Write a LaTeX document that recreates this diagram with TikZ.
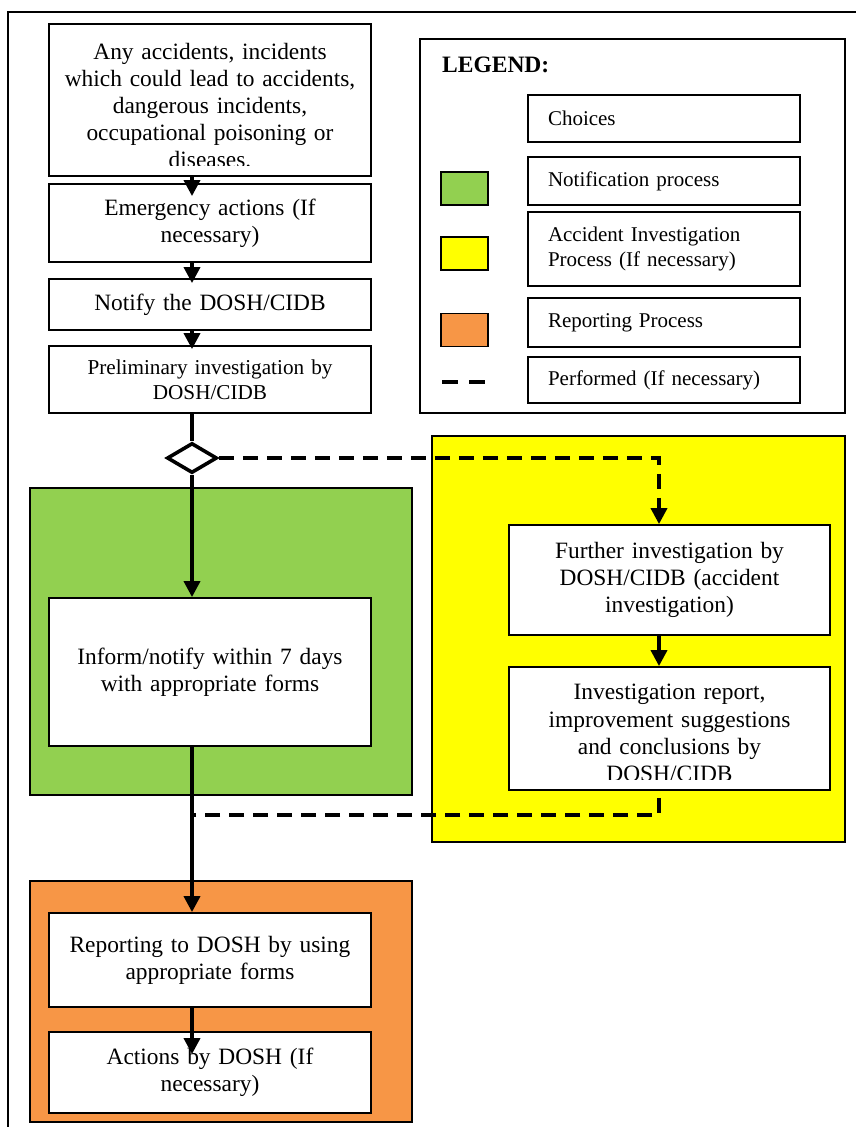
\documentclass[tikz,border=0pt]{standalone}
\usepackage{fontspec}
\setmainfont{Liberation Serif}
\usetikzlibrary{arrows.meta,shapes.geometric,calc}
\definecolor{grn}{HTML}{92D050}
\definecolor{ylw}{HTML}{FFFF00}
\definecolor{orn}{HTML}{F79646}
\begin{document}
\begin{tikzpicture}[x=1pt,y=-1pt,
  mainfont/.style={font=\fontsize{23.4}{27.2}\selectfont},
  box/.style={draw, line width=1.8pt, fill=white, minimum width=322pt, inner sep=0pt,
    align=center, text width=318pt, mainfont},
  txt/.style={inner sep=0pt, align=center, text width=318pt, mainfont},
  legbox/.style={draw, line width=1.6pt, fill=white, minimum width=272pt, text width=232pt,
    inner xsep=20pt, inner ysep=0pt, align=left, font=\fontsize{21}{25}\selectfont},
  grp/.style={draw, line width=1.3pt},
  swatch/.style={draw, line width=1.6pt, minimum width=47pt, minimum height=33pt, inner sep=0pt},
  plain/.style={line width=3.6pt},
  arr/.style={line width=3.6pt, -{Triangle[length=16pt,width=16pt]}},
  darr/.style={line width=3.6pt, dash pattern=on 15pt off 9pt, -{Triangle[length=16pt,width=16pt]}},
  dline/.style={line width=3.6pt, dash pattern=on 15pt off 9pt},
  choice/.style={diamond, draw, line width=3.6pt, fill=white, minimum width=50pt, minimum height=30pt, inner sep=0pt, aspect=1.7}
]
\useasboundingbox (0,0) rectangle (855,1127);
\fill[white] (0,0) rectangle (855,1127);
% outer frame
\draw[line width=1.4pt] (856,12) -- (8,12) -- (8,1128);

% group backgrounds
\draw[grp, fill=grn] (30,488) rectangle (412,795);
\draw[grp, fill=ylw] (432,436) rectangle (845,842);
\draw[grp, fill=orn] (30,881) rectangle (412,1122);

% legend
\draw[line width=1.6pt] (420,39) rectangle (845,413);
\node[anchor=base west, inner sep=0pt, font=\fontsize{23.5}{27}\selectfont\bfseries] (legT) at (442,72) {LEGEND:};
\node[legbox, minimum height=47pt] (lChoice) at (664,118.5) {Choices};
\node[legbox, minimum height=48pt] (lNotif) at (664,181) {Notification process};
\node[legbox, minimum height=74pt] (lAcc) at (664,249) {Accident Investigation\\Process (If necessary)};
\node[legbox, minimum height=49pt] (lRep) at (664,322.5) {Reporting Process};
\node[legbox, minimum height=46pt] (lPerf) at (664,380) {Performed (If necessary)};
\node[swatch, fill=grn] (sG) at (464.5,188.5) {};
\node[swatch, fill=ylw] (sY) at (464.5,253.5) {};
\node[swatch, fill=orn] (sO) at (464.5,330) {};
\coordinate (dA) at (442,382);
\coordinate (dB) at (487,382);
\draw[line width=3.6pt, dash pattern=on 16pt off 11pt] (dA) -- (dB);

% main column boxes
\node[box, minimum height=152pt] (top) at (210,100) {};
\begin{scope}
  \clip (top.north west) rectangle (371,165.5);
  \node[txt] (topT) at (210,105.5) {Any accidents, incidents\\which could lead to accidents,\\dangerous incidents,\\occupational poisoning or\\diseases.};
\end{scope}
\node[box, minimum height=78pt] (emerg) at (210,223) {Emergency actions (If\\necessary)};
\node[box, minimum height=51pt] (notify) at (210,304.5) {Notify the DOSH/CIDB};
\node[box, minimum height=67pt, font=\fontsize{21.2}{25}\selectfont] (prelim) at (210,379.5) {Preliminary investigation by\\DOSH/CIDB};
\node[choice] (dia) at (192,458) {};
\node[box, minimum height=148pt] (inform) at (210,672) {Inform/notify within 7 days\\with appropriate forms};
\node[box, minimum width=321pt, minimum height=110pt] (further) at (669.5,580) {Further investigation by\\DOSH/CIDB (accident\\investigation)};
\node[box, minimum width=321pt, minimum height=123pt] (report) at (669.5,728.5) {};
\begin{scope}
  \clip (report.north west) rectangle (830,779);
  \node[txt] (reportT) at (669.5,733) {Investigation report,\\improvement suggestions\\and conclusions by\\DOSH/CIDB};
\end{scope}
\node[box, minimum height=94pt] (reporting) at (210,960) {Reporting to DOSH by using\\appropriate forms};
\node[box, minimum height=81pt] (actions) at (210,1072.5) {Actions by DOSH (If\\necessary)};

% connectors
\coordinate (jx) at (659,458);
\coordinate (jn) at (192,815);
\draw[arr] (top.south -| dia) -- ($(emerg.north -| dia)+(0,13)$);
\draw[arr] (emerg.south -| dia) -- ($(notify.north -| dia)+(0,5)$);
\draw[arr] (notify.south -| dia) -- ($(prelim.north -| dia)+(0,4)$);
\draw[plain] (prelim.south -| dia) -- (dia.north);
\draw[arr] (dia.south) -- (inform.north -| dia);
\draw[darr] (dia.east) -- (jx) -- (further.north -| jx);
\draw[darr] (further.south -| jx) -- (report.north -| jx);
\draw[dline] ($(report.south -| jx)+(0,7)$) |- (jn);
\draw[arr] (inform.south -| dia) -- (reporting.north -| dia);
\draw[arr] (reporting.south -| dia) -- ($(actions.north -| dia)+(0,23)$);
\end{tikzpicture}
\end{document}
